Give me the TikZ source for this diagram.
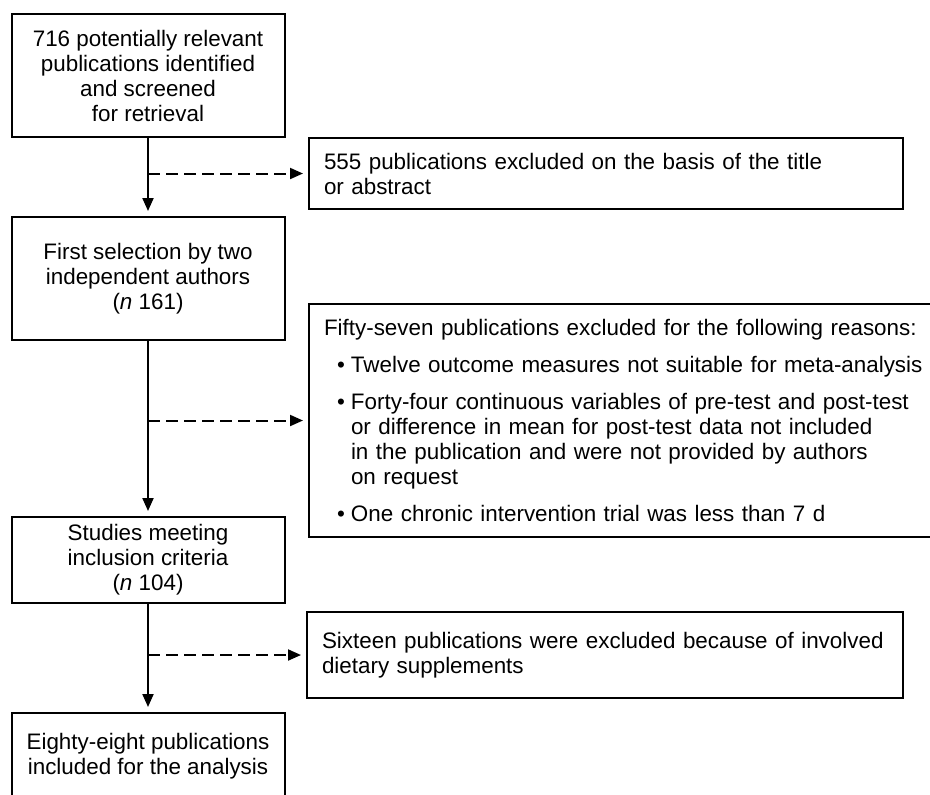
\documentclass[tikz,border=0pt]{standalone}
\usepackage{fontspec}
\setmainfont{Liberation Sans}
\usetikzlibrary{arrows.meta}

\newcommand{\bul}{\hspace*{6.5pt}\makebox[7pt][l]{\textbullet}}
\newcommand{\cont}{\hspace*{13.5pt}}

\tikzset{
	flowbox/.style={draw, line width=1pt, align=center, minimum width=136.5pt,
		inner sep=0pt, font=\fontsize{11.2}{12.5}\selectfont},
	exclbox/.style={draw, line width=1pt, align=left, inner xsep=7.5pt,
		inner ysep=0pt, font=\fontsize{11.2}{12.5}\selectfont},
	flowarrow/.style={line width=1pt, -{Triangle[width=5.5pt,length=6.5pt]}, shorten >=2.5pt},
	exclarrow/.style={flowarrow, dash pattern=on 6pt off 3pt}
}

\begin{document}
\begin{tikzpicture}[x=0.5pt, y=-0.5pt]
					\useasboundingbox (0,0) rectangle (930,794);
					
					% Main column
					\node[flowbox, minimum height=61.5pt] (ident) at (148,75.5)
						{716 potentially relevant\\publications identified\\and screened\\for retrieval};
					\node[flowbox, minimum height=61.5pt] (first) at (148,278.5)
						{First selection by two\\independent authors\\(\textit{n} 161)};
					\node[flowbox, minimum height=43pt] (incl) at (148,560)
						{Studies meeting\\inclusion criteria\\(\textit{n} 104)};
					\node[flowbox, minimum height=43pt] (final) at (148,756)
						{Eighty-eight publications\\included for the analysis};
					
					% Exclusion boxes on the right
					\node[exclbox, anchor=west, text width=282pt, minimum height=35.5pt] (excl1) at (308,173.5)
						{555 publications excluded on the basis of the title\\or abstract};
					\node[exclbox, anchor=north west, text width=310pt, minimum height=116.5pt] (excl2) at (308,303)
						{Fifty-seven publications excluded for the following reasons:\\[6pt]
						\bul Twelve outcome measures not suitable for meta-analysis\\[6pt]
						\bul Forty-four continuous variables of pre-test and post-test\\
						\cont or difference in mean for post-test data not included\\
						\cont in the publication and were not provided by authors\\
						\cont on request\\[6pt]
						\bul One chronic intervention trial was less than 7 d};
					\node[exclbox, anchor=west, text width=283pt, minimum height=43pt] (excl3) at (306,655)
						{Sixteen publications were excluded because of involved\\dietary supplements};
					
					% Solid arrows down the column
					\draw[flowarrow] (ident) -- (first);
					\draw[flowarrow] (first) -- (incl);
					\draw[flowarrow] (incl) -- (final);
					
					% Dashed branches to the exclusions
					\draw[exclarrow] (ident.south |- excl1.west) -- (excl1.west);
					\draw[exclarrow] (first.south |- excl2.west) -- (excl2.west);
					\draw[exclarrow] (incl.south |- excl3.west) -- (excl3.west);
				\end{tikzpicture}
\end{document}
